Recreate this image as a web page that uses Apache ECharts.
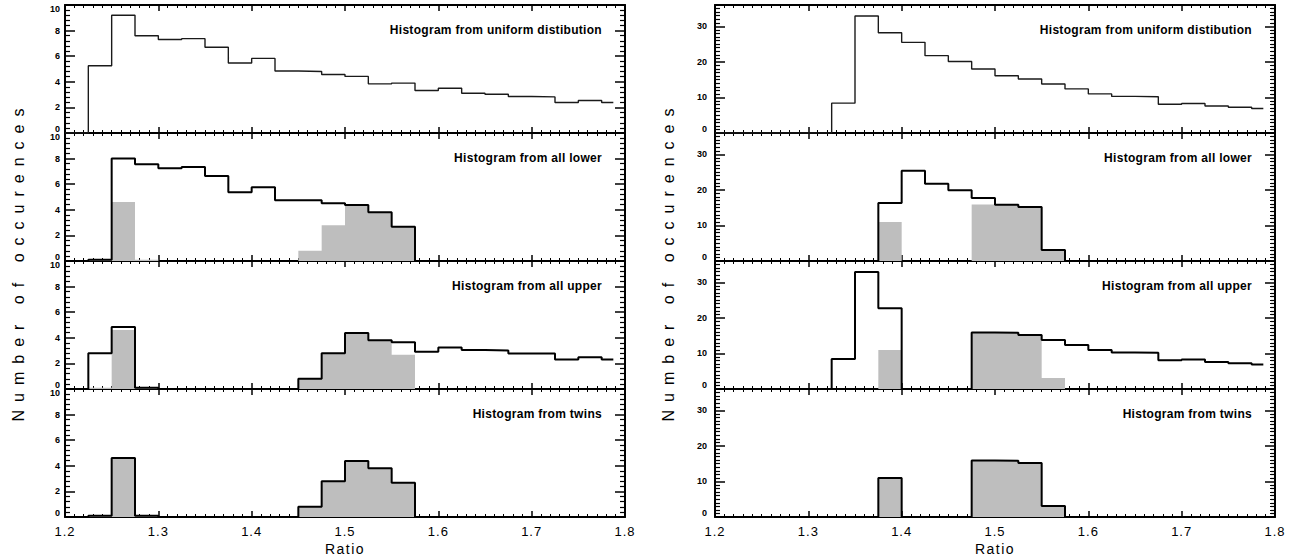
<!DOCTYPE html>
<html>
<head>
<meta charset="utf-8">
<script src="https://cdn.jsdelivr.net/npm/echarts@6/dist/echarts.min.js"></script>
<style>
  html, body { margin: 0; padding: 0; background: #fff; }
  #chart { width: 1295px; height: 558px; }
  /* wide, plotter-style lettering for the axis titles and tick labels */
  #chart text[style*="16px"] { letter-spacing: 8px; }
  #chart text[style*="14px"] { letter-spacing: 1.5px; }
  #chart text[style*="13px"] { letter-spacing: 1px; }
  #chart text[style*="12px"] { letter-spacing: 0.3px; }
</style>
</head>
<body>
<div id="chart"></div>
<script>
// Bin edges of the ratio histograms (last bin is a half bin)
const binEdges = [1.2, 1.225, 1.25, 1.275, 1.3, 1.325, 1.35, 1.375, 1.4, 1.425, 1.45, 1.475,
                  1.5, 1.525, 1.55, 1.575, 1.6, 1.625, 1.65, 1.675, 1.7, 1.725, 1.75, 1.775, 1.7875];

const xTickLabels = ['1.2', '1.3', '1.4', '1.5', '1.6', '1.7', '1.8'];

const panelTitles = [
  'Histogram from uniform distibution',
  'Histogram from all lower',
  'Histogram from all upper',
  'Histogram from twins'
];

// Left column counts
const leftUniform = [0, 5.25, 9.2, 7.6, 7.3, 7.37, 6.7, 5.47, 5.83, 4.84, 4.8, 4.57,
                     4.42, 3.84, 3.9, 3.32, 3.5, 3.11, 3.03, 2.85, 2.82, 2.38, 2.54, 2.38];
const leftLower   = [0, 0.1, 8.0, 7.56, 7.24, 7.35, 6.64, 5.38, 5.77, 4.75, 4.75, 4.51,
                     4.38, 3.8, 2.68, 0, 0, 0, 0, 0, 0, 0, 0, 0];
const leftUpper   = [0, 2.8, 4.85, 0.1, 0, 0, 0, 0, 0, 0, 0.8, 2.8,
                     4.38, 3.8, 3.65, 2.91, 3.25, 3.05, 3.0, 2.78, 2.78, 2.31, 2.49, 2.31];
const leftTwins   = [0, 0.1, 4.6, 0.1, 0, 0, 0, 0, 0, 0, 0.8, 2.8,
                     4.38, 3.8, 2.68, 0, 0, 0, 0, 0, 0, 0, 0, 0];

// Right column counts
const rightUniform = [0, 0, 0, 0, 0, 8.4, 32.9, 28.2, 25.5, 21.75, 20.1, 18,
                      16.1, 15.2, 13.8, 12.4, 11.0, 10.3, 10.2, 8.1, 8.3, 7.6, 7.25, 6.9];
const rightLower   = [0, 0, 0, 0, 0, 0, 0, 16.3, 25.4, 21.7, 19.9, 17.7,
                      15.8, 15.2, 3.1, 0, 0, 0, 0, 0, 0, 0, 0, 0];
const rightUpper   = [0, 0, 0, 0, 0, 8.45, 32.9, 22.7, 0, 0, 0, 15.9,
                      15.8, 15.2, 13.8, 12.4, 11.0, 10.3, 10.2, 8.1, 8.3, 7.6, 7.25, 6.9];
const rightTwins   = [0, 0, 0, 0, 0, 0, 0, 11, 0, 0, 0, 15.9,
                      15.8, 15.2, 3.1, 0, 0, 0, 0, 0, 0, 0, 0, 0];

// Turn per-bin counts into the outline of a step histogram
function stepPoints(vals) {
  const pts = [];
  vals.forEach((v, i) => {
    pts.push([binEdges[i], v]);
    pts.push([binEdges[i + 1], v]);
  });
  return pts;
}

const PLOT_W = 560, PANEL_H = 128, TOP = 5;
const GRAY = '#bebebe';
const FONT = 'Liberation Sans';

const columns = [
  { left: 65,  yMax: 10, yInterval: 2,  yMinor: 5,  labelMargin: 5,
    outlines: [leftUniform, leftLower, leftUpper, leftTwins], twins: leftTwins },
  { left: 715, yMax: 36, yInterval: 10, yMinor: 10, labelMargin: 8,
    outlines: [rightUniform, rightLower, rightUpper, rightTwins], twins: rightTwins }
];

const grid = [], xAxis = [], yAxis = [], series = [], graphic = [];

// Frame sides: axis line plus inward major / minor ticks, no labels
function xFrame(g, pos) {
  return {
    gridIndex: g, type: 'value', position: pos,
    min: 1.2, max: 1.8, interval: 0.1,
    axisLine: { show: true, onZero: false, lineStyle: { color: '#000', width: 2 } },
    axisTick: { show: true, inside: true, length: 6, lineStyle: { color: '#000', width: 1.5 } },
    minorTick: { show: true, splitNumber: 10, length: 3, lineStyle: { color: '#000', width: 1 } },
    splitLine: { show: false }, minorSplitLine: { show: false },
    axisLabel: { show: false }
  };
}
// Both vertical frame sides are right-hand axes; the left side is shifted
// back across the plot and its ticks point outward from that axis, i.e. into the plot.
function yFrame(g, col, leftSide) {
  return {
    gridIndex: g, type: 'value', position: 'right',
    offset: leftSide ? -PLOT_W : 0,
    min: 0, max: col.yMax, interval: col.yInterval,
    axisLine: { show: true, onZero: false, lineStyle: { color: '#000', width: 2 } },
    axisTick: { show: true, inside: !leftSide, length: 10, lineStyle: { color: '#000', width: 1.5 } },
    minorTick: { show: true, splitNumber: col.yMinor, length: 5, lineStyle: { color: '#000', width: 1.2 } },
    splitLine: { show: false }, minorSplitLine: { show: false },
    axisLabel: { show: false }
  };
}

// Label-only axes
function xLabels(g) {
  return {
    gridIndex: g, type: 'value', position: 'bottom',
    min: 1.2, max: 1.8, interval: 0.1,
    axisLine: { show: false }, axisTick: { show: false },
    splitLine: { show: false },
    axisLabel: {
      show: true, margin: 8, fontSize: 13, fontFamily: FONT, color: '#000',
      formatter: v => xTickLabels[Math.round((v - 1.2) * 10)]
    },
    name: 'Ratio', nameLocation: 'middle', nameGap: 25,
    nameTextStyle: { fontSize: 14, fontFamily: FONT, color: '#000' }
  };
}

// y tick labels: the bottom "0" sits a little above its tick, the top "10" a little below
const yLabelStyle = { fontSize: 9, fontWeight: 'bold', fontFamily: FONT, color: '#000' };

function yLabels(g, col) {
  return {
    gridIndex: g, type: 'value', position: 'left',
    min: 0, max: col.yMax, interval: col.yInterval,
    axisLine: { show: false }, axisTick: { show: false },
    splitLine: { show: false },
    axisLabel: {
      show: true, margin: col.labelMargin,
      fontSize: 9, fontWeight: 'bold', fontFamily: FONT, color: '#000',
      formatter: v => {
        if (v % col.yInterval !== 0) return '';
        if (v === 0) return '{lo|0}';
        if (v === col.yMax) return '{hi|' + v + '}';
        return String(v);
      },
      rich: {
        lo: Object.assign({ padding: [0, 0, 8, 0] }, yLabelStyle),
        hi: Object.assign({ padding: [8, 0, 0, 0] }, yLabelStyle)
      }
    }
  };
}

columns.forEach((col, c) => {
  for (let r = 0; r < 4; r++) {
    const g = c * 4 + r;
    const top = TOP + r * PANEL_H;
    grid.push({ left: col.left, top: top, width: PLOT_W, height: PANEL_H });

    const xi = xAxis.length, yi = yAxis.length;
    xAxis.push(xFrame(g, 'bottom'));
    xAxis.push(xFrame(g, 'top'));
    if (r === 3) xAxis.push(xLabels(g));
    yAxis.push(yFrame(g, col, false));
    yAxis.push(yFrame(g, col, true));
    yAxis.push(yLabels(g, col));

    // grey twin bars underneath the lower / upper / twin outlines
    if (r > 0) {
      series.push({
        type: 'line', xAxisIndex: xi, yAxisIndex: yi,
        data: stepPoints(col.twins),
        symbol: 'none', silent: true, z: 2,
        lineStyle: { width: 0, opacity: 0 },
        areaStyle: { color: GRAY, opacity: 1 }
      });
    }

    series.push({
      type: 'line', xAxisIndex: xi, yAxisIndex: yi,
      data: stepPoints(col.outlines[r]),
      symbol: 'none', silent: true, z: 3,
      lineStyle: { color: r === 0 ? '#1a1a1a' : '#000', width: r === 0 ? 1.4 : 2 }
    });

    graphic.push({
      type: 'text', x: col.left + PLOT_W - 23, y: top + 25, silent: true,
      style: {
        text: panelTitles[r], fontSize: 12, fontWeight: 'bold', fontFamily: FONT,
        fill: '#000', align: 'right', verticalAlign: 'middle'
      }
    });
  }

  graphic.push({
    type: 'text', x: col.left - 47, y: TOP + 2 * PANEL_H, rotation: Math.PI / 2, silent: true,
    style: {
      text: 'Number of occurences', fontSize: 16, fontFamily: FONT,
      fill: '#000', align: 'center', verticalAlign: 'middle'
    }
  });
});

const chart = echarts.init(document.getElementById('chart'), null, { renderer: 'svg' });
chart.setOption({
  animation: false,
  backgroundColor: '#fff',
  grid, xAxis, yAxis, series, graphic
});
</script>
</body>
</html>
